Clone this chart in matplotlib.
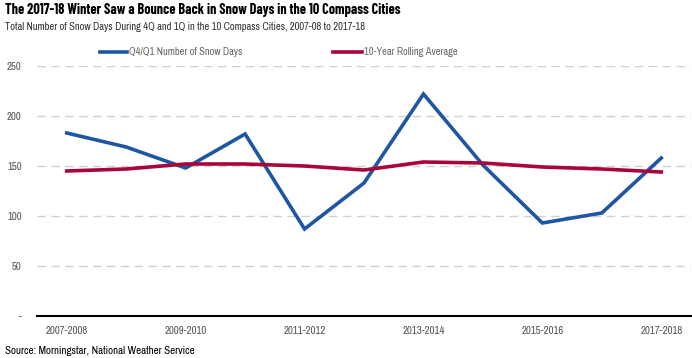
import matplotlib
matplotlib.use("Agg")
import matplotlib.pyplot as plt
from matplotlib import font_manager as fm

names = {f.name for f in fm.fontManager.ttflist}
FONT = "DejaVu Sans"
for cand in ["Liberation Sans Narrow", "Archivo Narrow", "Roboto Condensed", "Barlow Condensed"]:
    if cand in names:
        FONT = cand
        break
TFONT = FONT
for cand in ["Barlow Condensed", "Roboto Condensed", "Asap Condensed"]:
    if cand in names:
        TFONT = cand
        break
plt.rcParams['font.family'] = [FONT, 'DejaVu Sans']

seasons = ["2007-2008", "2008-2009", "2009-2010", "2010-2011", "2011-2012", "2012-2013",
           "2013-2014", "2014-2015", "2015-2016", "2016-2017", "2017-2018"]
snow_days = [183, 169, 148, 182, 87, 133, 222, 151, 93, 103, 158]
rolling_avg = [145, 147, 152, 152, 150, 146, 154, 153, 149, 147, 144]
yticks = [0, 50, 100, 150, 200, 250]
ytick_labels = ["-", "50", "100", "150", "200", "250"]

title = "The 2017-18 Winter Saw a Bounce Back in Snow Days in the 10 Compass Cities"
subtitle = "Total Number of Snow Days During 4Q and 1Q in the 10 Compass Cities, 2007-08 to 2017-18"
source = "Source: Morningstar, National Weather Service"

W, H = 692, 358
fig = plt.figure(figsize=(W/100, H/100), dpi=100)
ax = fig.add_axes([37/W, 1-316/H, (691-37)/W, (316-66)/H])
ax.set_ylim(0, 250)
ax.set_xlim(-0.5, len(seasons)-0.5)

x = list(range(len(seasons)))
blue = "#1f56a3"
red = "#a8063b"
ax.plot(x, snow_days, color=blue, lw=2.6, solid_joinstyle='miter')
ax.plot(x, rolling_avg, color=red, lw=2.6)

for y in yticks[1:]:
    ax.axhline(y, color="#d0d0d0", lw=1, ls=(0, (6, 4)), zorder=0)
ax.set_yticks(yticks)
ax.set_yticklabels(ytick_labels)
ax.set_xticks(x[::2])
ax.set_xticklabels(seasons[::2])
for s in ["top", "right", "left"]:
    ax.spines[s].set_visible(False)
ax.spines["bottom"].set_color("black")
ax.spines["bottom"].set_linewidth(1.5)
ax.tick_params(axis='both', length=0, labelsize=7.8, colors="#555555")
ax.tick_params(axis='y', pad=11)
ax.tick_params(axis='x', pad=7)

fig.text(5/W, 1-10/H, title, fontsize=10.2, fontweight='bold', va='center', ha='left', color='black',
         family=[TFONT, 'DejaVu Sans'])
fig.text(5/W, 1-27/H, subtitle, fontsize=7.6, va='center', ha='left', color='#333333')
fig.text(5/W, 1-351/H, source, fontsize=7.9, va='center', ha='left', color='black')

# legend
ly = 1-52/H
fig.add_artist(plt.Line2D([100/W, 127/W], [ly, ly], color=blue, lw=2.6))
fig.text(129/W, ly, "Q4/Q1 Number of Snow Days", fontsize=7.5, va='center', ha='left', color='#666666')
fig.add_artist(plt.Line2D([333/W, 362/W], [ly, ly], color=red, lw=2.6))
fig.text(364/W, ly, "10-Year Rolling Average", fontsize=7.5, va='center', ha='left', color='#666666')

fig.savefig("out.png", dpi=100)
